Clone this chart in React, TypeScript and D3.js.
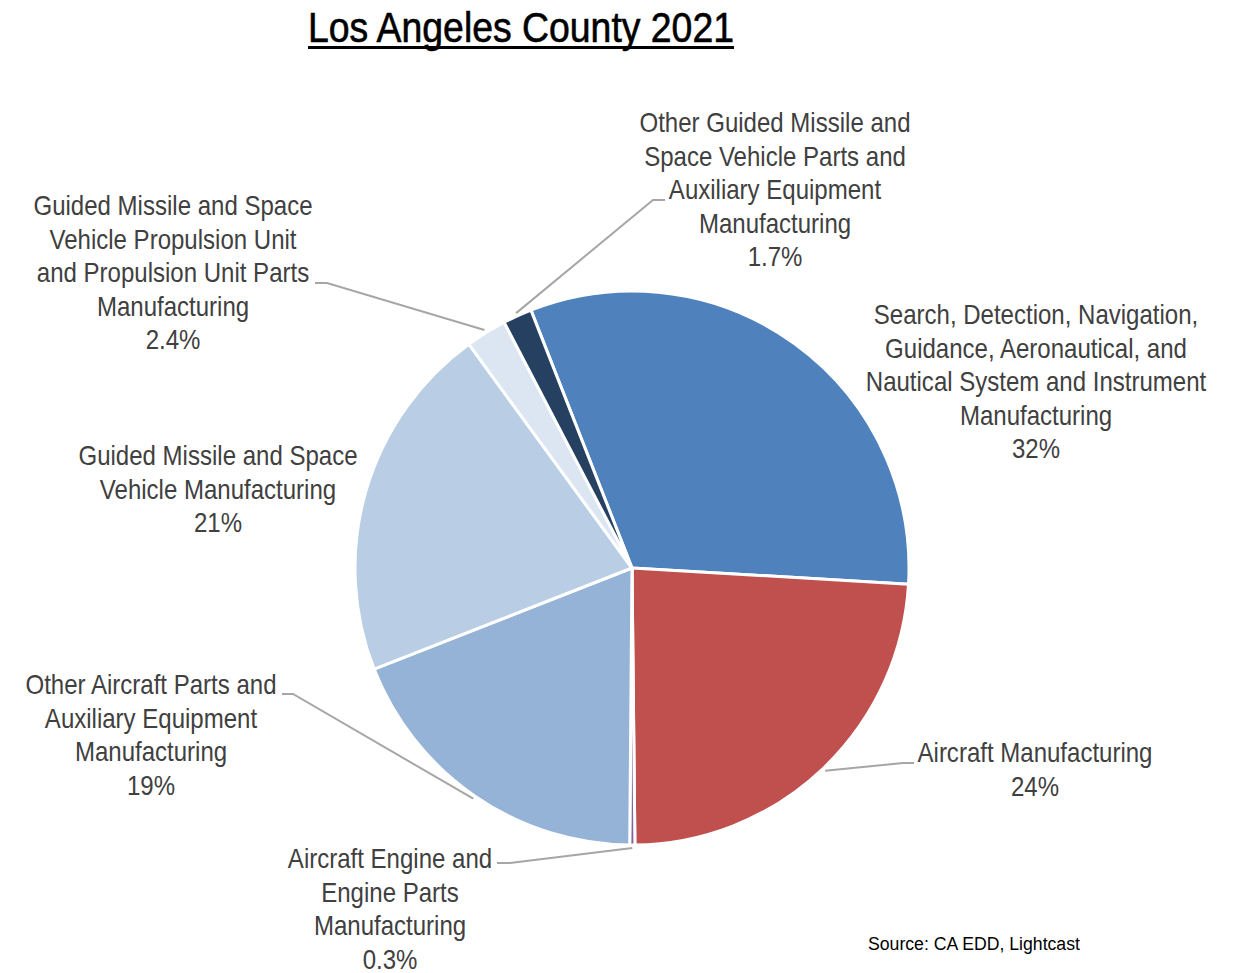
import React, { useEffect, useRef } from 'react';
import * as d3 from 'd3';

// Data
const categories = [
  'Search, Detection, Navigation, Guidance, Aeronautical, and Nautical System and Instrument Manufacturing',
  'Aircraft Manufacturing',
  'Aircraft Engine and Engine Parts Manufacturing',
  'Other Aircraft Parts and Auxiliary Equipment Manufacturing',
  'Guided Missile and Space Vehicle Manufacturing',
  'Guided Missile and Space Vehicle Propulsion Unit and Propulsion Unit Parts Manufacturing',
  'Other Guided Missile and Space Vehicle Parts and Auxiliary Equipment Manufacturing',
];
const shares = [32, 24, 0.3, 19, 21, 2.4, 1.7];
const shareLabels = ['32%', '24%', '0.3%', '19%', '21%', '2.4%', '1.7%'];
const colors = ['#4F81BD', '#C0504D', '#8064A2', '#95B3D7', '#B9CDE5', '#DCE6F2', '#254061'];

// label wrapping as in the original
const labelLines = [
  ['Search, Detection, Navigation,', 'Guidance, Aeronautical, and', 'Nautical System and Instrument', 'Manufacturing'],
  ['Aircraft Manufacturing'],
  ['Aircraft Engine and', 'Engine Parts', 'Manufacturing'],
  ['Other Aircraft Parts and', 'Auxiliary Equipment', 'Manufacturing'],
  ['Guided Missile and Space', 'Vehicle Manufacturing'],
  ['Guided Missile and Space', 'Vehicle Propulsion Unit', 'and Propulsion Unit Parts', 'Manufacturing'],
  ['Other Guided Missile and', 'Space Vehicle Parts and', 'Auxiliary Equipment', 'Manufacturing'],
];

// label placement: center x, first line middle y, leader elbow (or null)
const labelPos = [
  { x: 1036, y: 315, elbow: null, end: null },
  { x: 1035, y: 753, elbow: [903, 763], end: [914, 763] },
  { x: 390, y: 859, elbow: [510, 863], end: [497, 863] },
  { x: 151, y: 685, elbow: [293, 694], end: [282, 694] },
  { x: 218, y: 456, elbow: null, end: null },
  { x: 173, y: 206, elbow: [327, 283], end: [315, 283] },
  { x: 775, y: 123, elbow: [653, 200], end: [665, 200] },
];

// no narrow font installed, so squeeze a regular one
const FONT = '"Liberation Sans", Arial, sans-serif';
const SQUEEZE = 0.89;

function drawChart(container: HTMLDivElement) {
  d3.select(container).selectAll('*').remove();

  const width = 1245;
  const height = 973;
  const cx = 632;
  const cy = 568;
  const radius = 277;
  const lineHeight = 33.5;

  const svg = d3.select(container).append('svg')
    .attr('width', width)
    .attr('height', height)
    .style('display', 'block')
    .style('font-family', FONT);

  svg.append('rect').attr('width', width).attr('height', height).attr('fill', '#fff');

  // Title
  const titleX = 521;
  const title = svg.append('g')
    .attr('transform', `translate(${titleX},0) scale(${SQUEEZE},1)`)
    .append('text')
    .attr('x', 0)
    .attr('y', 42)
    .attr('text-anchor', 'middle')
    .style('font-size', '42px')
    .style('fill', '#000')
    .style('stroke', '#000')
    .style('stroke-width', 0.6)
    .text('Los Angeles County 2021');
  const tw = (title.node() as SVGTextElement).getBBox().width * SQUEEZE;
  svg.append('rect')
    .attr('x', titleX - tw / 2)
    .attr('y', 46)
    .attr('width', tw)
    .attr('height', 3)
    .attr('fill', '#000');

  const data = shares.map((v, i) => ({ i, v }));
  const start = (-21.4 * Math.PI) / 180;
  const pie = d3.pie<{ i: number; v: number }>()
    .value(d => d.v)
    .sort(null)
    .startAngle(start)
    .endAngle(start + 2 * Math.PI);

  const arc = d3.arc<d3.PieArcDatum<{ i: number; v: number }>>()
    .innerRadius(0)
    .outerRadius(radius);

  const g = svg.append('g').attr('transform', `translate(${cx},${cy})`);
  const arcs = pie(data);

  g.selectAll('path')
    .data(arcs)
    .enter()
    .append('path')
    .attr('d', arc)
    .attr('fill', d => colors[d.data.i])
    .attr('stroke', '#fff')
    .attr('stroke-width', 3)
    .attr('stroke-linejoin', 'round');

  // Leader lines
  arcs.forEach(a => {
    const p = labelPos[a.data.i];
    if (!p.elbow || !p.end) return;
    const mid = (a.startAngle + a.endAngle) / 2;
    const r0 = radius + 3;
    const sx = cx + r0 * Math.sin(mid);
    const sy = cy - r0 * Math.cos(mid);
    svg.append('polyline')
      .attr('points', `${sx},${sy} ${p.elbow[0]},${p.elbow[1]} ${p.end[0]},${p.end[1]}`)
      .attr('fill', 'none')
      .attr('stroke', '#A6A6A6')
      .attr('stroke-width', 2);
  });

  // Labels
  categories.forEach((c, i) => {
    const p = labelPos[i];
    const lines = labelLines[i].concat([shareLabels[i]]);
    const t = svg.append('g')
      .attr('transform', `translate(${p.x},0) scale(${SQUEEZE},1)`)
      .append('text')
      .attr('text-anchor', 'middle')
      .style('font-size', '27px')
      .style('fill', '#404040');
    lines.forEach((ln, k) => {
      t.append('tspan')
        .attr('x', 0)
        .attr('y', p.y + k * lineHeight)
        .attr('dy', '0.35em')
        .text(ln);
    });
  });

  // Source
  svg.append('g')
    .attr('transform', `translate(868,0) scale(0.93,1)`)
    .append('text')
    .attr('x', 0)
    .attr('y', 950)
    .style('font-size', '19px')
    .style('fill', '#000')
    .text('Source: CA EDD, Lightcast');
}

const App = () => {
  const ref = useRef<HTMLDivElement>(null);
  useEffect(() => {
    if (ref.current) drawChart(ref.current);
  }, []);
  return <div ref={ref} style={{ position: 'absolute', left: 0, top: 0 }} />;
};

export default App;
